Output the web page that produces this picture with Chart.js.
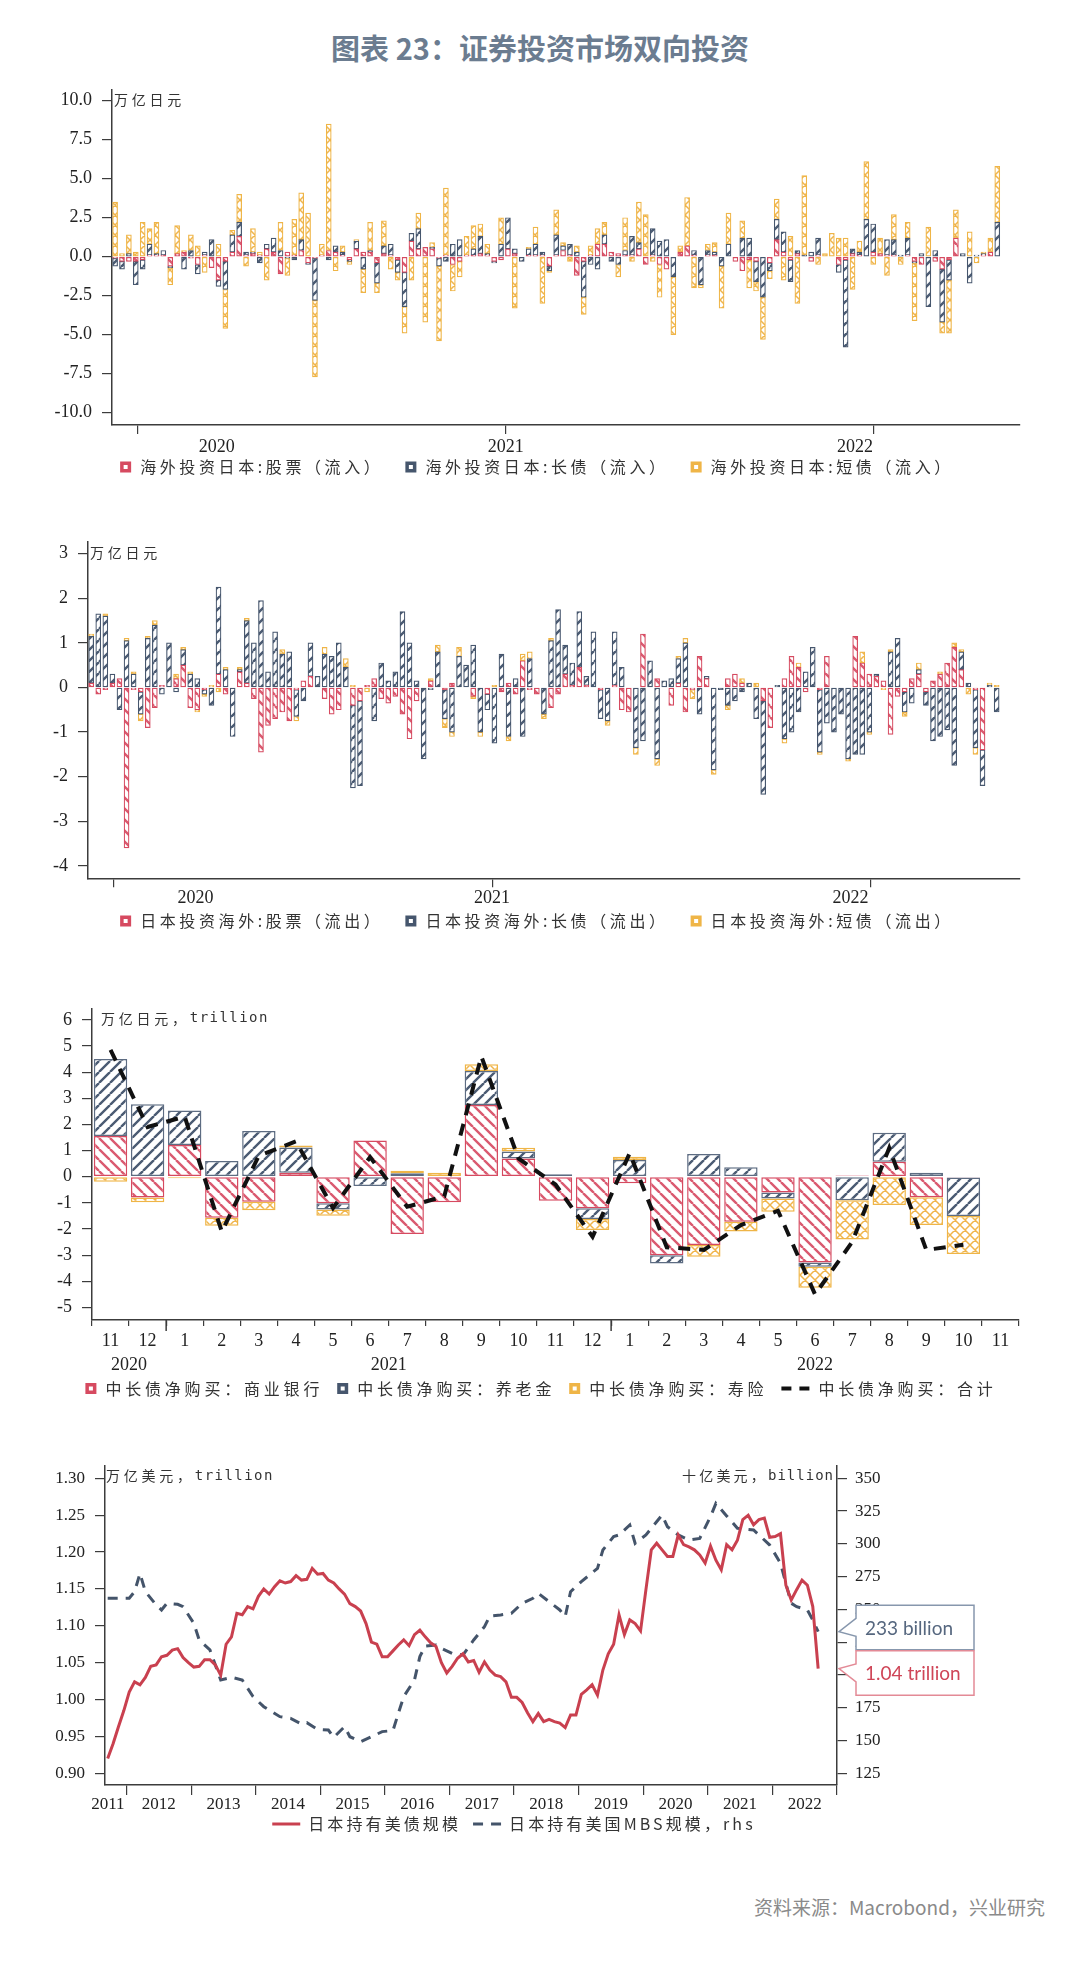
<!DOCTYPE html>
<html lang="zh-CN"><head><meta charset="utf-8"><title>证券投资市场双向投资</title>
<script src="https://cdn.jsdelivr.net/npm/chart.js@4.4.1/dist/chart.umd.min.js"></script>
<style>
html,body{margin:0;padding:0;background:#fff}
body{width:1080px;height:1978px;position:relative;overflow:hidden}
#title{position:absolute;left:0;top:28px;width:1080px;text-align:center;font:700 29px/38px "Noto Sans CJK SC",sans-serif;color:#6b7c90}
.pan{position:absolute;left:0;width:1080px}
.pan canvas{display:block}
#src{position:absolute;right:35px;top:1893px;font:19px/28px "Noto Sans CJK SC",sans-serif;color:#8a8a8a}
</style></head><body>
<div id="title">图表 23：证券投资市场双向投资</div>
<div class="pan" style="top:80px"><canvas id="c1" width="1080" height="410"></canvas></div>
<div class="pan" style="top:530px"><canvas id="c2" width="1080" height="410"></canvas></div>
<div class="pan" style="top:995px"><canvas id="c3" width="1080" height="415"></canvas></div>
<div class="pan" style="top:1455px"><canvas id="c4" width="1080" height="390"></canvas></div>
<div id="src">资料来源：Macrobond，兴业研究</div>
<script>
// ================= DATA =================
// Panel 1 & 2: weekly flows (万亿日元), week index 0..128
const weekYears = ['2020', '2021', '2022'];
const weekYearBreaks = [29.95, 83.4];           // week index where a new year starts
const p1YTicks = [-10, -7.5, -5, -2.5, 0, 2.5, 5, 7.5, 10];
const p2YTicks = [-4, -3, -2, -1, 0, 1, 2, 3];

const foreignEquityIn = [-0.1,-0.3,-0.3,-0.3,-0.2,0.1,0.1,0.1,-0.6,0.2,
 0.3,-0.1,-0.5,0.1,-0.7,-1.5,-0.3,0.3,1.3,0.1,
 0.2,0.1,0.5,0.3,-1.1,0.3,0.1,0.4,-0.4,-0.1,
 0.1,0.4,0.3,0.1,-0.2,0.5,0.3,0.3,-0.4,0.2,
 0.1,-0.2,-1.0,1.0,0.5,0.6,0.5,-0.1,0.1,-0.5,
 -0.3,0.1,0.1,0.2,0.1,-0.3,-0.2,0.5,0.2,0.0,
 0.1,0.1,0.1,-0.6,0.1,0.4,0.1,-1.2,-0.3,0.1,
 0.8,0.8,0.3,0.2,0.1,0.1,0.5,-0.5,0.1,-0.5,
 -0.8,0.0,0.3,0.7,0.1,0.0,0.1,0.1,0.0,0.0,
 -0.3,-0.9,-0.2,-0.3,0.0,-0.4,1.1,0.3,-0.2,0.2,
 0.0,-0.3,0.1,0.0,0.0,-0.5,-0.2,0.2,0.1,0.0,
 0.3,0.2,0.1,0.1,0.0,0.1,-0.3,-0.5,0.0,-0.3,
 -0.8,-0.2,1.2,0.0,0.0,0.0,0.1,0.3,0.0];
const foreignLongBondIn = [-0.5,-0.5,0.2,-1.5,-0.6,0.7,0.1,0.3,-0.1,0.0,
 -0.8,0.4,-0.6,0.2,1.1,-0.4,-1.8,1.1,0.9,0.2,
 0.1,-0.4,0.3,0.9,0.4,-0.1,-0.2,0.7,-0.1,-2.7,
 0.0,-0.2,0.4,0.2,-0.1,0.5,-0.8,0.1,-1.3,0.5,
 0.7,-0.8,-2.2,0.5,1.3,0.0,0.1,-0.5,-0.3,0.8,
 1.1,0.0,0.4,1.1,0.1,-0.1,0.8,2.0,0.3,-0.3,
 0.4,0.7,0.2,-0.3,1.3,0.3,0.7,0.3,-2.3,-0.5,
 -0.8,0.6,-0.3,-0.5,0.3,1.2,0.4,0.0,1.7,1.0,
 1.1,-1.3,0.0,0.0,0.3,-1.8,0.3,0.2,-0.6,0.8,
 0.0,1.2,1.2,-1.3,-2.6,-0.5,1.3,1.3,-1.4,0.2,
 0.1,0.3,1.1,0.0,0.0,-0.5,-5.6,0.3,0.2,2.4,
 1.8,0.0,1.0,1.0,0.1,1.1,-0.1,0.2,-3.2,0.4,
 -3.4,-1.3,0.0,0.2,-1.7,0.1,0.1,0.0,2.2];
const foreignShortBondIn = [3.5,0.2,1.2,0.3,2.2,1.0,2.0,0.0,-1.1,1.8,
 0.1,1.0,0.7,-1.0,0.0,0.8,-2.5,0.3,1.8,-0.6,
 1.5,0.2,-1.5,0.0,1.8,-1.1,2.3,3.0,2.8,-4.9,
 0.7,8.1,-0.9,0.4,-0.2,0.1,-1.5,1.8,-0.6,1.6,
 -0.8,-0.5,-1.7,-1.5,1.0,-4.2,0.3,-4.8,4.3,-1.7,
 -1.0,1.2,1.5,0.8,0.6,0.0,1.7,0.0,-3.3,0.0,
 0.1,1.1,-3.0,-0.1,1.6,0.2,-0.3,0.4,-1.1,0.6,
 1.0,0.8,0.0,-0.8,2.1,-0.3,2.6,2.7,-0.3,-2.1,
 0.0,-3.7,0.4,3.1,-2.0,-0.2,0.4,0.6,-2.7,2.0,
 0.0,1.1,-1.8,-0.6,-2.7,-0.5,1.3,-1.5,1.3,-3.0,
 5.1,0.0,-0.5,0.2,1.5,1.2,1.2,-2.1,0.7,3.7,
 -0.5,1.0,-1.2,1.6,-0.5,1.0,-3.7,0.0,1.9,0.0,
 -0.7,-3.4,1.8,0.0,1.6,-0.4,0.1,0.9,3.6];

const japanEquityOut = [0.1,-0.15,-0.05,0.1,0.2,-3.6,-0.05,-0.1,-0.9,-0.45,
 0.05,0.0,0.2,0.5,-0.45,-0.5,-0.05,0.0,0.3,-0.15,
 0.0,0.35,0.1,-0.25,-1.45,-0.85,-0.7,-0.55,-0.75,-0.05,
 0.15,0.25,0.0,-0.25,-0.6,-0.5,0.0,-0.4,-0.3,0.05,
 0.2,-0.25,-0.35,-0.2,-0.6,-1.15,-0.3,0.0,0.15,0.0,
 -0.05,0.1,0.0,0.0,-0.2,0.0,-0.15,0.0,-0.1,0.1,
 -0.15,0.6,-0.05,-0.15,0.0,-0.45,-0.15,0.3,0.05,0.45,
 0.05,0.0,-0.05,0.0,0.05,-0.5,-0.55,0.0,1.2,0.0,
 0.2,0.0,-0.4,0.1,-0.55,-0.05,0.7,0.2,0.0,0.0,
 0.2,0.3,0.1,0.0,0.0,-0.3,-0.9,0.0,0.2,0.7,
 0.45,-0.1,0.0,-0.05,0.7,0.0,0.0,0.0,1.15,0.55,
 0.3,0.25,0.15,-1.05,-0.2,-0.1,0.2,0.3,-0.1,0.15,
 0.3,0.55,0.9,0.4,0.0,-0.05,-1.4,0.0,0.0];
const japanLongBondOut = [1.05,1.65,1.6,0.2,-0.5,1.05,0.3,-0.5,1.1,1.4,
 -0.15,1.0,-0.1,0.35,0.3,0.2,-0.1,-0.4,1.95,0.4,
 -1.1,0.05,1.4,1.0,1.95,0.35,1.25,0.75,0.8,-0.6,
 -0.3,0.75,0.25,0.75,0.7,1.0,0.45,-1.85,-1.9,0.0,
 -0.75,0.55,0.15,0.35,1.7,1.0,0.15,-1.6,-0.05,0.8,
 -0.65,-1.0,0.7,0.5,0.95,-1.0,-0.35,-1.25,0.75,-1.1,
 0.2,-1.1,0.65,0.0,-0.6,1.05,1.75,0.65,0.5,1.25,
 0.2,1.25,-0.65,-0.75,1.2,0.45,0.0,-1.35,-1.2,0.6,
 -1.6,0.15,0.2,0.55,1.0,0.0,-0.6,0.05,-1.85,-0.05,
 -0.4,-0.3,-0.1,0.1,-0.7,-2.1,0.0,0.05,-1.15,-1.0,
 -0.55,0.35,0.9,-1.4,-0.8,-1.0,-0.6,-1.6,-1.5,-1.5,
 -1.0,0.05,0.0,0.8,1.1,-0.45,-0.35,0.1,-0.3,-1.2,
 -1.1,-0.95,-1.75,0.4,0.1,-1.3,-0.8,0.05,-0.55];
const japanShortBondOut = [0.05,0.0,0.05,0.0,0.0,0.05,0.05,-0.15,0.05,0.1,
 0.0,0.0,0.1,0.05,0.05,-0.05,-0.05,0.05,-0.1,0.05,
 0.0,0.05,0.05,0.0,0.0,0.0,0.0,0.1,0.0,-0.1,
 0.0,0.0,0.0,0.15,0.0,0.0,0.2,0.05,0.0,-0.1,
 0.0,0.0,0.0,0.0,0.0,0.0,0.0,0.0,0.05,0.15,
 -0.2,-0.1,0.2,0.0,-0.05,-0.1,0.0,0.05,0.0,-0.1,
 0.0,0.15,0.15,0.0,-0.1,0.05,0.0,0.0,0.0,0.0,
 0.0,0.0,0.0,-0.1,0.0,0.0,0.0,-0.15,0.0,0.0,
 -0.15,0.0,0.0,0.05,0.1,-0.2,0.0,0.0,-0.1,0.0,
 -0.1,0.0,0.1,0.0,0.1,0.0,0.0,0.0,-0.1,0.0,
 0.1,0.0,0.0,-0.05,0.0,0.0,0.0,-0.05,0.0,0.25,
 -0.05,0.0,-0.05,0.05,0.0,-0.1,0.0,0.15,0.0,0.0,
 0.05,0.0,0.1,0.05,-0.15,-0.15,0.0,0.05,0.05];

// Panel 3: monthly net purchases of medium/long-term JGBs (万亿日元)
const p3Months = ['11','12','1','2','3','4','5','6','7','8','9','10','11','12','1','2','3','4','5','6','7','8','9','10','11'];
const p3Years = ['2020', '2021', '2022'];
const p3YearStart = [0, 2, 14];
const p3YTicks = [-5,-4,-3,-2,-1,0,1,2,3,4,5,6];
const banksNet   = [1.56,-0.80,1.21,-1.57,-0.96,0.15,-1.02,1.38,-2.19,-0.98,2.74,0.70,-0.92,-1.21,-0.25,-3.00,-2.61,-1.72,-0.60,-3.28,0.05,0.57,-0.79,-0.03];
const pensionNet = [2.94,2.77,1.32,0.60,1.75,0.97,-0.23,-0.36,0.13,0.00,1.30,0.26,0.09,-0.41,0.64,-0.32,0.87,0.36,-0.23,-0.16,-0.90,1.11,0.15,-1.47];
const lifeNet    = [-0.19,-0.18,-0.06,-0.31,-0.32,0.07,-0.24,0.00,0.10,0.15,0.26,0.15,0.00,-0.42,0.12,0.00,-0.45,-0.38,-0.51,-0.81,-1.50,-1.08,-1.06,-1.46];
const totalNet   = [4.85,1.9,2.3,-2.1,0.8,1.35,-1.2,0.75,-1.15,-0.75,4.6,0.7,-0.3,-2.3,0.9,-2.7,-2.8,-1.85,-1.3,-4.5,-2.5,1.1,-2.8,-2.6];

// Panel 4: months since Sep 2011 (index 0 = 2011-09)
const p4Years = ['2011','2012','2013','2014','2015','2016','2017','2018','2019','2020','2021','2022'];
const p4YearStartMonth = [0,4,16,28,40,52,64,76,88,100,112,124];
const p4AxisEndMonth = 136;
const p4YTicks = [0.90,0.95,1.00,1.05,1.10,1.15,1.20,1.25,1.30];
const p4Y1Ticks = [125,150,175,200,225,250,275,300,325,350];
const ustHoldings = [0.92,0.94,0.963,0.985,1.01,1.024,1.02,1.03,1.045,1.047,
 1.058,1.06,1.067,1.069,1.057,1.05,1.044,1.045,1.054,1.054,
 1.047,1.033,1.075,1.085,1.117,1.115,1.126,1.123,1.14,1.15,
 1.143,1.153,1.161,1.158,1.16,1.168,1.162,1.163,1.178,1.17,
 1.171,1.162,1.158,1.15,1.143,1.13,1.126,1.12,1.103,1.078,
 1.075,1.058,1.058,1.066,1.074,1.081,1.073,1.088,1.094,1.085,
 1.077,1.072,1.05,1.036,1.045,1.056,1.062,1.051,1.053,1.037,
 1.051,1.04,1.033,1.031,1.024,1.003,1.003,0.996,0.982,0.97,
 0.981,0.97,0.973,0.97,0.968,0.962,0.979,0.979,1.007,1.013,
 1.02,1.006,1.04,1.062,1.075,1.115,1.088,1.108,1.103,1.093,
 1.149,1.203,1.212,1.203,1.194,1.194,1.223,1.21,1.207,1.203,
 1.196,1.185,1.208,1.189,1.176,1.21,1.203,1.216,1.244,1.25,
 1.237,1.244,1.246,1.22,1.221,1.225,1.155,1.135,1.149,1.162,
 1.155,1.126,1.042];
const mbsMonth = [0,2,4,5,6,7,9,10,11,13,14,16,17,19,21,23,25,27,29,32,
 34,36,37,39,41,42,44,45,47,49,51,53,54,55,57,58,59,61,62,64,
 66,68,70,71,73,75,77,79,80,82,84,85,86,88,91,92,94,95,97,98,
 100,101,103,104,106,108,110,112,113,115,117,120,121,123,125,126,127,128,130,131,132];
const mbsHoldings = [258.5,258.5,258.5,263.6,277.5,263.6,253.4,249.6,254.7,253.9,
 252.1,239.4,226.7,219.1,196.2,198.2,196.2,183.5,175.8,168.2,
 166.9,162.6,163.6,158.5,158,152.4,160.6,152.9,149.1,152.9,
 156.8,157.6,170.7,183.5,196.2,214,222.1,222.9,220.3,216.5,
 215.2,226.7,236.9,245,245.8,247,254.7,258.5,262.3,255.9,
 249.6,244.5,263.5,271.2,281.3,295.3,305.5,306.8,314.4,300.4,
 306.8,311.9,322,313.1,306.8,303,304.2,320.8,330.9,321.3,
 311.9,310.6,306.8,299.1,285.2,269.9,254.7,252.1,249.6,241.9,233];
const calloutTexts = ['233 billion', '1.04 trillion'];

// ================= STYLE =================
const RED = '#d64a60', NAVY = '#46566d', YEL = '#efb547';
const LINE_RED = '#c9404f', LINE_NAVY = '#44546a';
const AX = '#3c3c3c', TXT = '#222';
const SERIF = '"Liberation Serif", "Times New Roman", serif';
const CJK = '"Noto Sans CJK SC", sans-serif';
const MONO = '"DejaVu Sans Mono", "Noto Sans CJK SC", monospace';
Chart.defaults.font.family = SERIF;
Chart.defaults.color = TXT;

function makePattern(color, kind, s, lw) {
  const c = document.createElement('canvas'); c.width = s; c.height = s;
  const g = c.getContext('2d');
  g.fillStyle = '#fff'; g.fillRect(0, 0, s, s);
  g.strokeStyle = color; g.lineWidth = lw; g.beginPath();
  for (let k = -1; k <= 1; k++) {
    const o = k * s;
    if (kind === 'f' || kind === 'x') { g.moveTo(o, s); g.lineTo(o + s, 0); }
    if (kind === 'b' || kind === 'x') { g.moveTo(o, 0); g.lineTo(o + s, s); }
  }
  g.stroke();
  return g.createPattern(c, 'repeat');
}
const patRed = makePattern('#da5a70', 'b', 11, 2.4);
const patNavy = makePattern('#4b5b73', 'f', 11, 2.4);
const patYel = makePattern('#f0b54c', 'x', 10, 1.5);

function drawParts(ctx, parts, x, y, align) {
  ctx.save();
  ctx.textBaseline = 'middle'; ctx.textAlign = 'left'; ctx.fillStyle = '#333';
  const ws = parts.map(p => { ctx.font = p.font; ctx.letterSpacing = '0px'; return ctx.measureText(p.t).width + p.ls * [...p.t].length; });
  let cx = align === 'right' ? x - ws.reduce((a, b) => a + b, 0) : x;
  parts.forEach((p, i) => { ctx.font = p.font; ctx.letterSpacing = p.ls + 'px'; ctx.fillText(p.t, cx, y); cx += ws[i]; });
  ctx.letterSpacing = '0px';
  ctx.restore();
}

function legendPlugin(items, cx, cy, cfg) {
  return { id: 'customLegend', afterDraw(chart) {
    const ctx = chart.ctx; ctx.save();
    ctx.font = cfg.font; ctx.letterSpacing = '0px';
    const tw = items.map(it => ctx.measureText(it.label).width + cfg.ls * [...it.label].length);
    const iw = it => it.type === 'line' ? 28 : 11;
    let total = 0;
    items.forEach((it, i) => { total += iw(it) + cfg.gap + tw[i] + (i < items.length - 1 ? cfg.spacing : 0); });
    let x = cx - total / 2;
    items.forEach((it, i) => {
      if (it.type === 'box') {
        ctx.fillStyle = it.color; ctx.fillRect(x, cy - 5.5, 11, 11);
        ctx.fillStyle = '#fff'; ctx.fillRect(x + 3.5, cy - 2, 4, 4);
      } else {
        ctx.strokeStyle = it.color; ctx.lineWidth = it.width || 3;
        ctx.setLineDash(it.dash || []); ctx.beginPath(); ctx.moveTo(x, cy); ctx.lineTo(x + 28, cy); ctx.stroke(); ctx.setLineDash([]);
      }
      x += iw(it) + cfg.gap;
      ctx.font = cfg.font; ctx.fillStyle = '#333'; ctx.textBaseline = 'middle'; ctx.textAlign = 'left';
      ctx.letterSpacing = cfg.ls + 'px'; ctx.fillText(it.label, x, cy); ctx.letterSpacing = '0px';
      x += tw[i] + cfg.spacing;
    });
    ctx.restore();
  }};
}

function unitPlugin(list) {
  return { id: 'units', afterDraw(chart) {
    const a = chart.chartArea;
    list.forEach(u => drawParts(chart.ctx, u.parts, u.side === 'right' ? a.right - 3 : a.left + u.dx, a.top + u.dy, u.side === 'right' ? 'right' : 'left'));
  }};
}

function segmentLabels(labels, bounds, dy, scaleId, fontSize) {
  return { id: 'segLabels', afterDraw(chart) {
    const sc = chart.scales[scaleId || 'x'], ctx = chart.ctx;
    ctx.save(); ctx.font = fontSize + 'px ' + SERIF; ctx.fillStyle = TXT; ctx.textBaseline = 'middle'; ctx.textAlign = 'center';
    labels.forEach((lab, i) => {
      const x0 = sc.getPixelForValue(bounds[i]), x1 = sc.getPixelForValue(bounds[i + 1]);
      const w = ctx.measureText(lab).width;
      let x = (x0 + x1) / 2;
      if (x1 - x0 < w + 4) x = x1 - 2 - w / 2;
      ctx.fillText(lab, x, chart.chartArea.bottom + dy);
    });
    ctx.restore();
  }};
}

const fixedTicks = arr => s => { s.ticks = arr.map(v => ({ value: v })); };
const fitY = w => s => { s.width = w; s.paddingTop = 0; s.paddingBottom = 0; };
const fitX = h => s => { s.height = h; s.paddingLeft = 0; s.paddingRight = 0; };
function gridOpt(len) { return { drawOnChartArea: false, drawTicks: true, tickLength: len, color: AX, lineWidth: 1.2 }; }
const borderOpt = { display: true, color: AX, width: 1.5 };

// ================= PANEL 1 & 2 =================
function weeklyChart(id, sets, yMin, yMax, yTicks, yFmt, yW, topPad, xH, yearDy, legendItems, legendCY, unitDy) {
  const wk = sets[0].data.map((_, i) => i);
  new Chart(document.getElementById(id), {
    type: 'bar',
    data: { datasets: sets.map(s => ({
      label: s.label, data: wk.map((w, i) => ({ x: w, y: s.data[i] })),
      backgroundColor: s.pat, borderColor: s.color, borderWidth: 1.2, borderSkipped: false, barThickness: 5
    })) },
    options: {
      responsive: false, animation: false, devicePixelRatio: 1,
      layout: { padding: { top: topPad, right: 60, left: 0, bottom: 0 } },
      plugins: { legend: { display: false }, tooltip: { enabled: false } },
      scales: {
        x: { type: 'linear', min: -0.45, max: 131.3, stacked: true, offset: false,
             afterBuildTicks: fixedTicks(weekYearBreaks), afterFit: fitX(xH),
             ticks: { display: false }, grid: gridOpt(9), border: borderOpt },
        y: { stacked: true, min: yMin, max: yMax, afterBuildTicks: fixedTicks(yTicks), afterFit: fitY(yW),
             ticks: { callback: yFmt, font: { size: 18, family: SERIF }, color: TXT, padding: 10, autoSkip: false },
             grid: gridOpt(10), border: borderOpt }
      }
    },
    plugins: [
      segmentLabels(weekYears, [-0.45].concat(weekYearBreaks, [131.3]), yearDy, 'x', 18),
      legendPlugin(legendItems, 537, legendCY, { font: '16px ' + CJK, ls: 3.6, gap: 9, spacing: 22 }),
      unitPlugin([{ parts: [{ t: '万亿日元', font: '14px ' + CJK, ls: 3.75 }], dx: 2, dy: unitDy }])
    ]
  });
}

weeklyChart('c1', [
  { label: '海外投资日本:股票（流入）', data: foreignEquityIn, color: RED, pat: patRed },
  { label: '海外投资日本:长债（流入）', data: foreignLongBondIn, color: NAVY, pat: patNavy },
  { label: '海外投资日本:短债（流入）', data: foreignShortBondIn, color: YEL, pat: patYel }
], -10.79, 10.69, p1YTicks, v => Number(v).toFixed(1), 112, 10, 65, 22,
[
  { type: 'box', color: RED, label: '海外投资日本:股票（流入）' },
  { type: 'box', color: NAVY, label: '海外投资日本:长债（流入）' },
  { type: 'box', color: YEL, label: '海外投资日本:短债（流入）' }
], 387, 10);

weeklyChart('c2', [
  { label: '日本投资海外:股票（流出）', data: japanEquityOut, color: RED, pat: patRed },
  { label: '日本投资海外:长债（流出）', data: japanLongBondOut, color: NAVY, pat: patNavy },
  { label: '日本投资海外:短债（流出）', data: japanShortBondOut, color: YEL, pat: patYel }
], -4.28, 3.27, p2YTicks, v => String(v), 88, 11.7, 61.7, 20,
[
  { type: 'box', color: RED, label: '日本投资海外:股票（流出）' },
  { type: 'box', color: NAVY, label: '日本投资海外:长债（流出）' },
  { type: 'box', color: YEL, label: '日本投资海外:短债（流出）' }
], 391, 11);

// ================= PANEL 3 =================
new Chart(document.getElementById('c3'), {
  type: 'bar',
  data: { labels: p3Months, datasets: [
    { label: '中长债净购买：商业银行', data: banksNet, backgroundColor: patRed, borderColor: RED, borderWidth: 1.5, borderSkipped: false, stack: 'bars', categoryPercentage: 1, barPercentage: 0.9 },
    { label: '中长债净购买：养老金', data: pensionNet, backgroundColor: patNavy, borderColor: '#5d6c82', borderWidth: 1.5, borderSkipped: false, stack: 'bars', categoryPercentage: 1, barPercentage: 0.9 },
    { label: '中长债净购买：寿险', data: lifeNet, backgroundColor: patYel, borderColor: YEL, borderWidth: 1.5, borderSkipped: false, stack: 'bars', categoryPercentage: 1, barPercentage: 0.9 },
    { type: 'line', label: '中长债净购买：合计', data: totalNet, borderColor: '#111', borderWidth: 4, borderDash: [12, 9], pointRadius: 0, tension: 0, fill: false, stack: 'total', order: -1 }
  ] },
  options: {
    responsive: false, animation: false, devicePixelRatio: 1,
    layout: { padding: { top: 13.3, right: 61, left: 0, bottom: 0 } },
    plugins: { legend: { display: false }, tooltip: { enabled: false } },
    scales: {
      x: { type: 'category', stacked: true, offset: true, afterFit: fitX(90),
           ticks: { font: { size: 18, family: SERIF }, color: TXT, padding: 4, maxRotation: 0, autoSkip: false },
           grid: Object.assign(gridOpt(6), { offset: true }), border: borderOpt },
      y: { stacked: true, min: -5.48, max: 6.44, afterBuildTicks: fixedTicks(p3YTicks), afterFit: fitY(92),
           ticks: { font: { size: 18, family: SERIF }, color: TXT, padding: 10, autoSkip: false },
           grid: gridOpt(10), border: borderOpt }
    }
  },
  plugins: [
    { id: 'yearMarks', afterDraw(chart) {
      const sc = chart.scales.x, ctx = chart.ctx, b = chart.chartArea.bottom;
      ctx.save(); ctx.strokeStyle = AX; ctx.lineWidth = 1.5;
      p3YearStart.slice(1).forEach(i => {
        const x = (sc.getPixelForValue(i - 1) + sc.getPixelForValue(i)) / 2;
        ctx.beginPath(); ctx.moveTo(x, b); ctx.lineTo(x, b + 11); ctx.stroke();
      });
      ctx.font = '18px ' + SERIF; ctx.fillStyle = TXT; ctx.textAlign = 'center'; ctx.textBaseline = 'middle';
      p3Years.forEach((y, k) => {
        const a = p3YearStart[k], e = k + 1 < p3YearStart.length ? p3YearStart[k + 1] - 1 : p3Months.length - 1;
        ctx.fillText(y, (sc.getPixelForValue(a) + sc.getPixelForValue(e)) / 2, b + 45);
      });
      ctx.restore();
    }},
    legendPlugin([
      { type: 'box', color: RED, label: '中长债净购买：商业银行' },
      { type: 'box', color: NAVY, label: '中长债净购买：养老金' },
      { type: 'box', color: YEL, label: '中长债净购买：寿险' },
      { type: 'line', color: '#111', width: 4, dash: [10, 8], label: '中长债净购买：合计' }
    ], 541, 393.5, { font: '16px ' + CJK, ls: 3.8, gap: 9, spacing: 14 }),
    unitPlugin([{ parts: [{ t: '万亿日元，', font: '14px ' + CJK, ls: 3.75 }, { t: 'trillion', font: '14px ' + MONO, ls: 1.45 }], dx: 9, dy: 10 }])
  ]
});

// ================= PANEL 4 =================
new Chart(document.getElementById('c4'), {
  type: 'line',
  data: { datasets: [
    { label: '日本持有美债规模', data: ustHoldings.map((v, i) => ({ x: i + 0.5, y: v })), yAxisID: 'y',
      borderColor: LINE_RED, borderWidth: 3, pointRadius: 0, tension: 0, fill: false },
    { label: '日本持有美国MBS规模，rhs', data: mbsMonth.map((m, i) => ({ x: m + 0.5, y: mbsHoldings[i] })), yAxisID: 'y1',
      borderColor: LINE_NAVY, borderWidth: 3, borderDash: [10, 8], pointRadius: 0, tension: 0, fill: false }
  ] },
  options: {
    responsive: false, animation: false, devicePixelRatio: 1,
    layout: { padding: { top: 11, right: 0, left: 0, bottom: 0 } },
    plugins: { legend: { display: false }, tooltip: { enabled: false } },
    scales: {
      x: { type: 'linear', min: 0, max: p4AxisEndMonth, afterBuildTicks: fixedTicks(p4YearStartMonth.slice(1).concat([p4AxisEndMonth])),
           afterFit: fitX(60), ticks: { display: false }, grid: gridOpt(10), border: borderOpt },
      y: { position: 'left', min: 0.8841, max: 1.3167, afterBuildTicks: fixedTicks(p4YTicks), afterFit: fitY(105),
           ticks: { callback: v => Number(v).toFixed(2), font: { size: 17, family: SERIF }, color: TXT, padding: 10, autoSkip: false },
           grid: gridOpt(10), border: borderOpt },
      y1: { position: 'right', min: 116.08, max: 359.4, afterBuildTicks: fixedTicks(p4Y1Ticks), afterFit: fitY(243),
            ticks: { font: { size: 17, family: SERIF }, color: TXT, padding: 8, autoSkip: false },
            grid: gridOpt(10), border: borderOpt }
    }
  },
  plugins: [
    segmentLabels(p4Years, p4YearStartMonth.concat([p4AxisEndMonth]), 20, 'x', 17),
    legendPlugin([
      { type: 'line', color: LINE_RED, width: 3, label: '日本持有美债规模' },
      { type: 'line', color: LINE_NAVY, width: 3, dash: [10, 8], label: '日本持有美国MBS规模，rhs' }
    ], 514, 369, { font: '16px ' + CJK, ls: 3.1, gap: 8, spacing: 12 }),
    unitPlugin([
      { parts: [{ t: '万亿美元，', font: '14px ' + CJK, ls: 3.75 }, { t: 'trillion', font: '14px ' + MONO, ls: 1.45 }], dx: 1, dy: 10 },
      { side: 'right', parts: [{ t: '十亿美元，', font: '14px ' + CJK, ls: 3.2 }, { t: 'billion', font: '14px ' + MONO, ls: 1.0 }], dy: 10 }
    ]),
    { id: 'callouts', afterDraw(chart) {
      const ctx = chart.ctx, a = chart.chartArea;
      const tipX = a.right + 2, L = a.right + 19, W = 118, H = 44.5;
      let tN = chart.scales.y1.getPixelForValue(mbsHoldings[mbsHoldings.length - 1]);
      let tR = chart.scales.y.getPixelForValue(ustHoldings[ustHoldings.length - 1]);
      let cN = tN, cR = tR;
      if (cR - cN < H + 1) { const d = (H + 1 - (cR - cN)) / 2; cN -= d; cR += d; }
      const box = (c, tip, border, color, text) => {
        ctx.save();
        ctx.beginPath();
        ctx.moveTo(L, c - H / 2); ctx.lineTo(L + W, c - H / 2); ctx.lineTo(L + W, c + H / 2); ctx.lineTo(L, c + H / 2);
        ctx.lineTo(L, c + 9); ctx.lineTo(tipX, tip); ctx.lineTo(L, c - 9); ctx.closePath();
        ctx.fillStyle = '#fff'; ctx.fill(); ctx.strokeStyle = border; ctx.lineWidth = 1.5; ctx.stroke();
        ctx.font = '19px Lato, "Open Sans", sans-serif'; ctx.fillStyle = color; ctx.textBaseline = 'middle'; ctx.textAlign = 'left';
        ctx.fillText(text, L + 9, c + 1);
        ctx.restore();
      };
      box(cN, tN, '#8797ad', '#56677f', calloutTexts[0]);
      box(cR, tR, '#e38a96', '#cf4557', calloutTexts[1]);
    }}
  ]
});
</script>
</body></html>
